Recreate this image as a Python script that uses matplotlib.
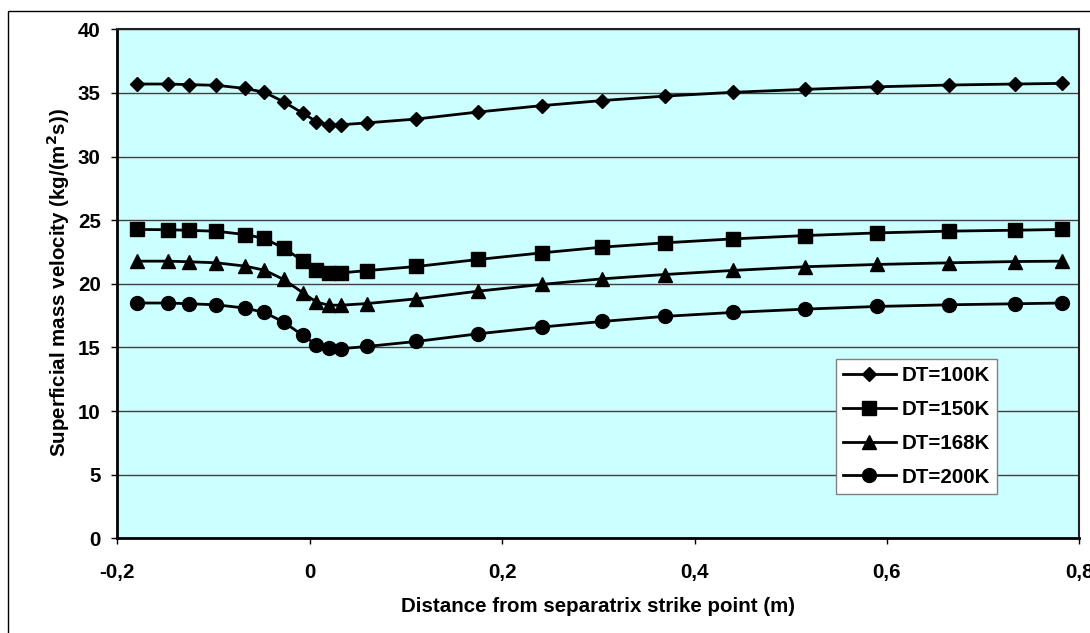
import matplotlib
matplotlib.use("Agg")
import matplotlib.pyplot as plt
from matplotlib.patches import Rectangle

plt.rcParams['font.family'] = ['Liberation Sans', 'DejaVu Sans']
plt.rcParams['font.weight'] = 'bold'

# distance from separatrix strike point (m)
x = [-0.180, -0.147, -0.125, -0.097, -0.067, -0.047, -0.027, -0.007, 0.007, 0.020,
     0.033, 0.060, 0.111, 0.175, 0.241, 0.304, 0.369, 0.440, 0.515, 0.590,
     0.665, 0.733, 0.782]

# superficial mass velocity (kg/(m2 s))
dt100 = [35.70, 35.70, 35.65, 35.60, 35.35, 35.05, 34.30, 33.40, 32.75, 32.50,
         32.50, 32.65, 32.95, 33.50, 34.00, 34.40, 34.75, 35.05, 35.28, 35.48,
         35.62, 35.70, 35.75]
dt150 = [24.27, 24.25, 24.20, 24.13, 23.87, 23.56, 22.80, 21.80, 21.10, 20.86,
         20.86, 21.04, 21.36, 21.91, 22.43, 22.88, 23.22, 23.53, 23.79, 24.00,
         24.14, 24.21, 24.27]
dt168 = [21.78, 21.78, 21.73, 21.65, 21.39, 21.07, 20.34, 19.29, 18.56, 18.32,
         18.32, 18.45, 18.82, 19.42, 19.95, 20.39, 20.73, 21.05, 21.34, 21.52,
         21.65, 21.75, 21.78]
dt200 = [18.49, 18.49, 18.43, 18.35, 18.09, 17.75, 16.99, 15.94, 15.21, 14.95,
         14.90, 15.08, 15.47, 16.07, 16.60, 17.04, 17.44, 17.75, 18.01, 18.22,
         18.35, 18.43, 18.49]

labels = ['DT=100K', 'DT=150K', 'DT=168K', 'DT=200K']
xticks = [-0.2, 0.0, 0.2, 0.4, 0.6, 0.8]
xticklabels = ['-0,2', '0', '0,2', '0,4', '0,6', '0,8']
yticks = [0, 5, 10, 15, 20, 25, 30, 35, 40]

FS = 14.8
W, H = 1090, 633
fig = plt.figure(figsize=(W / 100, H / 100), dpi=100)
fig.patch.set_facecolor('white')

# outer chart border (only top and left visible in the picture)
fig.patches.append(Rectangle((8 / W, -0.2), 1.2, (H - 11) / H + 0.2,
                             transform=fig.transFigure, fill=False,
                             edgecolor='black', lw=1.0))

ax = fig.add_axes([117.3 / W, (H - 538.3) / H, (1079.3 - 117.3) / W, (538.3 - 29.3) / H])
ax.set_facecolor('#CCFFFF')

ax.plot(x, dt100, color='black', lw=2.0, marker='D', ms=7.2, label=labels[0])
ax.plot(x, dt150, color='black', lw=2.0, marker='s', ms=10, label=labels[1])
ax.plot(x, dt168, color='black', lw=2.0, marker='^', ms=10, label=labels[2])
ax.plot(x, dt200, color='black', lw=2.0, marker='o', ms=10, label=labels[3])

ax.set_xlim(-0.2, 0.8)
ax.set_ylim(0, 40)
ax.set_xticks(xticks)
ax.set_xticklabels(xticklabels)
ax.set_yticks(yticks)
ax.yaxis.grid(True, color='#404040', lw=1.0)
ax.set_axisbelow(True)

ax.tick_params(axis='x', direction='out', length=4.5, width=1, pad=13, labelsize=FS)
ax.tick_params(axis='y', direction='out', length=4.5, width=1, pad=7.5, labelsize=FS)
for lab in ax.get_xticklabels() + ax.get_yticklabels():
    lab.set_fontweight('bold')

for s in ['left', 'bottom']:
    ax.spines[s].set_linewidth(2.0)
    ax.spines[s].set_color('black')
for s in ['top', 'right']:
    ax.spines[s].set_linewidth(1.5)
    ax.spines[s].set_color('#202020')

fig.text(598 / W, 1 - 606 / H, 'Distance from separatrix strike point (m)',
         ha='center', va='center', fontsize=FS, fontweight='bold')
fig.text(58 / W, 1 - 283 / H, 'Superficial mass velocity (kg/(m$^\\mathbf{2}$s))',
         ha='center', va='center', rotation=90, fontsize=FS, fontweight='bold')

leg = ax.legend(loc='upper left', bbox_to_anchor=((836 - 117.3) / 962, (538.3 - 359) / 509),
                frameon=True, fancybox=False, edgecolor='#808080', facecolor='white',
                framealpha=1, fontsize=FS, handlelength=2.55, handletextpad=0.28,
                borderpad=0.35, labelspacing=0.72, borderaxespad=0)
leg.get_frame().set_linewidth(1.0)
for t in leg.get_texts():
    t.set_fontweight('bold')

fig.savefig('out.png', dpi=100)
